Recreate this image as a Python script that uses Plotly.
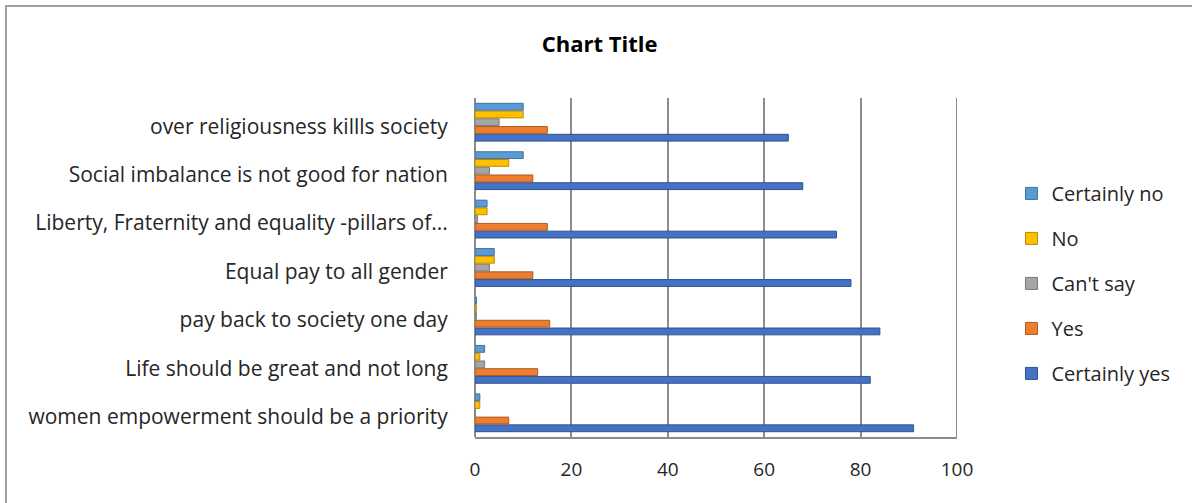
import plotly.graph_objects as go

# Survey statements (bottom to top on the chart)
statements = [
    "women empowerment should be a priority",
    "Life should be great and not long",
    "pay back to society one day",
    "Equal pay to all gender",
    "Liberty, Fraternity and equality -pillars of...",
    "Social imbalance is not good for nation",
    "over religiousness killls society",
]

certainly_yes = [91, 82, 84, 78, 75, 68, 65]
yes = [7, 13, 15.5, 12, 15, 12, 15]
cant_say = [0, 2, 0.3, 3, 0.5, 3, 5]
no = [1, 1, 0.3, 4, 2.5, 7, 10]
certainly_no = [1, 2, 0.3, 4, 2.5, 10, 10]

x_ticks = [0, 20, 40, 60, 80, 100]

# (name, values, fill, outline, legend rank)
series = [
    ("Certainly yes", certainly_yes, "#4472C4", "#2F528F", 5),
    ("Yes", yes, "#ED7D31", "#AE5A21", 4),
    ("Can't say", cant_say, "#A5A5A5", "#7B7B7B", 3),
    ("No", no, "#FFC000", "#BC8C00", 2),
    ("Certainly no", certainly_no, "#5B9BD5", "#41719C", 1),
]

FONT = "'Open Sans', Lato, sans-serif"
TEXT = "#262626"

fig = go.Figure()
for name, vals, color, edge, rank in series:
    fig.add_trace(go.Bar(
        y=statements, x=vals, name=name, orientation="h",
        marker=dict(color=color, line=dict(color=edge, width=1)),
        legendgroup=name, legendrank=rank,
    ))

fig.update_layout(
    barmode="group",
    bargap=0.2,
    bargroupgap=0.12,
    width=1192, height=503,
    margin=dict(l=475, r=235, t=98, b=66),
    paper_bgcolor="white",
    plot_bgcolor="white",
    font=dict(family=FONT, size=20, color=TEXT),
    title=dict(
        text="<b>Chart Title</b>", x=0.503, xref="container", xanchor="center",
        y=1 - 44 / 503, yref="container", yanchor="middle",
        font=dict(family=FONT, size=22, color="#000000"),
    ),
    legend=dict(
        traceorder="grouped", x=1.113, xanchor="left", y=0.453, yanchor="middle",
        font=dict(family=FONT, size=20, color=TEXT),
        tracegroupgap=16, itemwidth=30,
    ),
    showlegend=True,
)

fig.update_xaxes(
    range=[0, 100], tickvals=x_ticks, ticktext=[str(t) for t in x_ticks],
    showgrid=True, gridcolor="#8C8C8C", gridwidth=2,
    zeroline=True, zerolinecolor="#8C8C8C", zerolinewidth=2,
    showline=True, linecolor="#8C8C8C", linewidth=2, mirror=False,
    ticks="outside", ticklen=14, tickcolor="rgba(0,0,0,0)",
    tickfont=dict(family=FONT, size=19, color=TEXT),
)
fig.update_yaxes(
    categoryorder="array", categoryarray=statements,
    showgrid=False, showline=False, ticks="outside", ticklen=22,
    tickcolor="rgba(0,0,0,0)", ticklabelshift=4,
    tickfont=dict(family=FONT, size=21, color=TEXT),
)

# Outer chart border and the right wall at 100
fig.add_shape(type="rect", xref="paper", yref="paper",
              x0=(6 - 475) / 482, x1=(1192 - 475 + 5) / 482,
              y0=(-66 - 10) / 339, y1=(98 - 6) / 339 + 1,
              line=dict(color="#A0A0A0", width=2), fillcolor="rgba(0,0,0,0)",
              layer="below")
fig.add_shape(type="line", xref="x", yref="paper", x0=100, x1=100, y0=0, y1=1,
              line=dict(color="#8C8C8C", width=2))

fig.write_html("out.html")
